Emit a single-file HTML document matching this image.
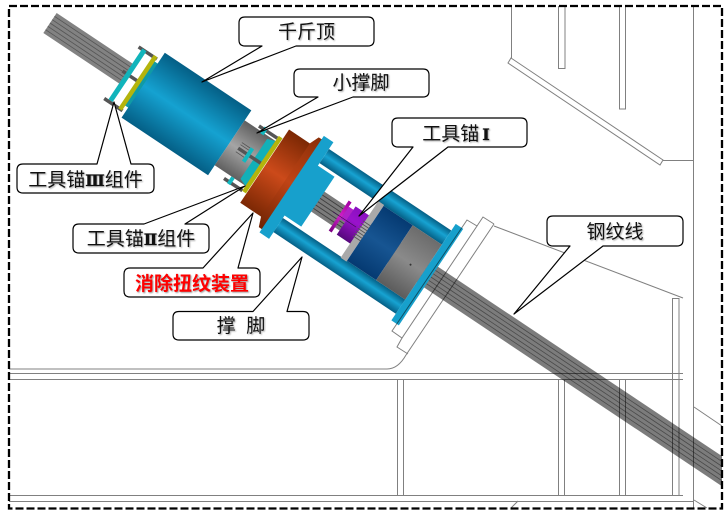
<!DOCTYPE html>
<html lang="zh"><head><meta charset="utf-8"><title>Diagram</title>
<style>
html,body{margin:0;padding:0;background:#fff;width:727px;height:513px;overflow:hidden}
svg{display:block;overflow:hidden}
.bg{fill:none;stroke:#808080;stroke-width:1;mix-blend-mode:multiply}
.co{fill:#fff;stroke:#000;stroke-width:1.2;stroke-linejoin:round}
text{font-family:"Liberation Sans","Noto Sans CJK SC",sans-serif;font-size:19px;fill:#111;text-anchor:middle;filter:drop-shadow(1px 1px .8px #aaa)}
.n{font-family:"DejaVu Serif","Noto Serif CJK SC",serif;font-weight:700;font-size:16px;stroke:#111;stroke-width:.35}
</style></head><body>
<svg width="727" height="513" viewBox="0 0 727 513" xmlns="http://www.w3.org/2000/svg">
<defs>
<clipPath id="clip"><rect x="0" y="0" width="722" height="513"/></clipPath>
<linearGradient id="cy" x1="0" y1="0" x2="0" y2="1"><stop offset="0" stop-color="#045f86"/><stop offset=".5" stop-color="#15a2d1"/><stop offset="1" stop-color="#045f86"/></linearGradient>
<linearGradient id="rod" x1="0" y1="0" x2="0" y2="1"><stop offset="0" stop-color="#055f85"/><stop offset=".45" stop-color="#17a3d2"/><stop offset="1" stop-color="#055f85"/></linearGradient>
<linearGradient id="gr" x1="0" y1="0" x2="0" y2="1"><stop offset="0" stop-color="#5f5f5f"/><stop offset=".5" stop-color="#a5a5a5"/><stop offset="1" stop-color="#5f5f5f"/></linearGradient>
<linearGradient id="gr2" x1="0" y1="0" x2="0" y2="1"><stop offset="0" stop-color="#6c6c6c"/><stop offset=".5" stop-color="#8a8a8a"/><stop offset="1" stop-color="#5c5c5c"/></linearGradient>
<linearGradient id="red" x1="0" y1="0" x2="0" y2="1"><stop offset="0" stop-color="#7c2804"/><stop offset=".5" stop-color="#cc4a1a"/><stop offset="1" stop-color="#7c2804"/></linearGradient>
<linearGradient id="red2" x1="0" y1="0" x2="0" y2="1"><stop offset="0" stop-color="#8a2e08"/><stop offset=".5" stop-color="#c04416"/><stop offset="1" stop-color="#6e2303"/></linearGradient>
<linearGradient id="nb" x1="0" y1="0" x2="0" y2="1"><stop offset="0" stop-color="#053a72"/><stop offset=".5" stop-color="#175592"/><stop offset="1" stop-color="#053a72"/></linearGradient>
<linearGradient id="pu" x1="0" y1="0" x2="0" y2="1"><stop offset="0" stop-color="#8a10c0"/><stop offset=".4" stop-color="#9a12cc"/><stop offset="1" stop-color="#56087c"/></linearGradient>
<linearGradient id="mg" x1="0" y1="0" x2="0" y2="1"><stop offset="0" stop-color="#a000a0"/><stop offset=".5" stop-color="#d020c8"/><stop offset="1" stop-color="#7a0080"/></linearGradient>
</defs>

<g clip-path="url(#clip)">
<g transform="translate(50 23) rotate(33.7)">
<!-- strands front -->
<rect x="456" y="-12.5" width="370" height="25" fill="#7c7c7c"/>
<g stroke="#4a4a4a" stroke-width=".8"><path d="M456-8H826M456-4H826M456 0H826M456 4H826M456 8H826"/></g>
</g>
</g>

<g transform="translate(50 23) rotate(33.7)">
<!-- strands rear -->
<rect x="0" y="-12" width="92" height="24" fill="#828282"/>
<g stroke="#555" stroke-width=".8"><path d="M0-8H92M0-4H92M0 0H92M0 4H92M0 8H92"/></g>
<!-- strands middle -->
<rect x="318" y="-12" width="135" height="24" fill="#7b7b7b"/>
<g stroke="#3f3f3f" stroke-width=".9"><path d="M318-8H453M318-4H453M318 0H453M318 4H453M318 8H453"/></g>

<!-- tool anchor III flange -->
<g fill="#555"><rect x="87" y="-31" width="22" height="3.500"/><rect x="87" y="31" width="22" height="3.500"/><rect x="87" y="-2" width="24" height="3.500"/></g>
<rect x="91" y="-30" width="5" height="61" fill="#11b4bb"/>
<rect x="108" y="-26" width="5" height="53" fill="#109aa5"/>
<rect x="104" y="-31" width="4.500" height="64" fill="#b4b40c"/>

<!-- main jack cylinder -->
<rect x="112" y="-39" width="104" height="78" fill="url(#cy)"/>
<!-- neck -->
<rect x="216" y="-27" width="38" height="54" fill="url(#gr)"/>
<!-- tool anchor II flange -->
<path d="M245-24L253-27V27L245 24Z" fill="#12b0b8"/>
<g fill="#555"><rect x="231" y="-32" width="22" height="3.500"/><rect x="231" y="31" width="22" height="3.500"/><rect x="226" y="-2" width="28" height="3.500"/></g>
<g stroke="#555" stroke-width=".8"><path d="M226-7H236M226-4.500H236M226 4H236"/></g>
<g fill="#12b8bf"><rect x="236" y="-33" width="4" height="8"/><rect x="236" y="-8" width="4" height="16"/><rect x="236" y="27" width="4" height="8"/></g>
<rect x="253" y="-33" width="4.500" height="66" fill="#b4b40c"/>
<!-- red device -->
<rect x="258" y="-44" width="26" height="88" fill="url(#red)"/>
<path d="M283-44L287-54H291V54H287L283 44Z" fill="url(#red2)"/>
<!-- big blue plate -->
<path d="M290.500-58H302V-30H322V30H302V58H290.500Z" fill="#17a0cc"/>
<!-- rods -->
<rect x="302" y="-50" width="147" height="17" fill="url(#rod)"/>
<rect x="302" y="33" width="147" height="17" fill="url(#rod)"/>
<!-- purple anchor -->
<rect x="347" y="-18" width="3.500" height="36" fill="url(#mg)"/>
<path d="M350.500-13H356V2H350.500Z" fill="#b020c8"/>
<rect x="356" y="-17" width="18" height="34" fill="url(#pu)"/>
<path d="M340 0H368" stroke="#3a0a50" stroke-width=".6"/>
<!-- plate, blue section, grey section -->
<rect x="372" y="-34" width="7" height="68" fill="#a9a9a9"/>
<g stroke="#555" stroke-width=".9"><path d="M370-9H379M370-6H379M370-3H379M370 0H379M370 3H379M370 6H379M370 9H379"/></g>
<rect x="379" y="-33" width="35" height="66" fill="url(#nb)"/>
<rect x="414" y="-33" width="35" height="66" fill="url(#gr2)"/>
<circle cx="434" cy="1" r="1" fill="#333"/>
<rect x="449" y="-58" width="9" height="116" fill="#17a0cc"/>
</g>

<!-- background structural lines -->
<g class="bg">
<path d="M511.500 6V58M558.500 6V68.500H565V6M619.500 6V109H625.500V6"/>
<path d="M511 58L663 160L660 165L508 63Z"/>
<path d="M663 160.500H693M693.500 6V508"/>
<path d="M494 226L683 298"/>
<path d="M672.500 495V298.500H679V495"/>
<path d="M494 224L406 355Q398 369 387 369H9"/>
<path d="M9 373.500H683M9 379.500H683"/>
<path d="M397.500 379.500V495M403.500 379.500V495M558.500 379.500V495M564.500 379.500V495M619.500 379.500V495M625.500 379.500V495"/>
<path d="M9 495.500H683M9 501.500H693"/>
<path d="M518 501L511 508M694 407L722 426M694 500L707 508"/>
<!-- bearing plate outlines -->
<path d="M467 220L477 226L402 338L392 331Z"/>
<path d="M477 226L483 217L494 224"/>
<path d="M402 338L397 347L408 354"/>
</g>

<!-- dashed border -->
<rect x="9" y="6" width="713" height="502.500" fill="none" stroke="#000" stroke-width="2.300" stroke-dasharray="8 3"/>

<!-- callouts -->
<path class="co" d="M245 17H368Q374 17 374 23V40Q374 46 368 46H296L202 82L262 46H245Q239 46 239 40V23Q239 17 245 17Z"/>
<text x="306.500" y="38">千斤顶</text>

<path class="co" d="M300 69H423Q429 69 429 75V91Q429 97 423 97H353L257 133L318 97H300Q294 97 294 91V75Q294 69 300 69Z"/>
<text x="361" y="89">小撑脚</text>

<path class="co" d="M398 118H521Q527 118 527 124V141Q527 147 521 147H448L359 216L413 147H398Q392 147 392 141V124Q392 118 398 118Z"/>
<text x="456" y="140">工具锚<tspan class="n" dx="3">Ⅰ</tspan></text>

<path class="co" d="M553 216H677Q683 216 683 222V240Q683 246 677 246H603L514 314L570 246H553Q547 246 547 240V222Q547 216 553 216Z"/>
<text x="615" y="238">钢纹线</text>

<path class="co" d="M23 164H97L114 102L131 164H148Q154 164 154 170V187Q154 193 148 193H23Q17 193 17 187V170Q17 164 23 164Z"/>
<text x="85.500" y="186">工具锚<tspan class="n">Ⅲ</tspan>组件</text>

<path class="co" d="M79 224H144L245 186L185 224H203Q209 224 209 230V247Q209 253 203 253H79Q73 253 73 247V230Q73 224 79 224Z"/>
<text x="141" y="245">工具锚<tspan class="n">Ⅱ</tspan>组件</text>

<path class="co" d="M130 268H203L253 213L238 268H254Q260 268 260 274V291Q260 297 254 297H130Q124 297 124 291V274Q124 268 130 268Z"/>
<text x="192" y="290" style="fill:#f00;font-weight:700;filter:drop-shadow(1px 1px .8px #999)">消除扭纹装置</text>

<path class="co" d="M179 311.500H253L302 257L287 311.500H303Q309 311.500 309 317.500V334Q309 340 303 340H179Q173 340 173 334V317.500Q173 311.500 179 311.500Z"/>
<text x="241" y="332">撑&#160;&#160;脚</text>
</svg>
</body></html>
